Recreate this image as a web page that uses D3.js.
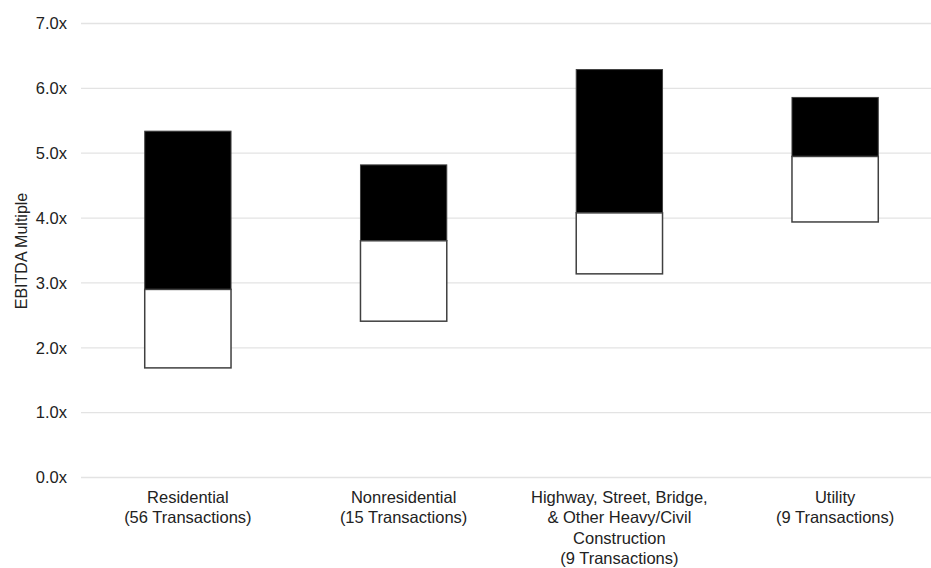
<!DOCTYPE html>
<html>
<head>
<meta charset="utf-8">
<script src="https://cdn.jsdelivr.net/npm/d3@7"></script>
<style>
  html, body { margin: 0; padding: 0; background: #fff; }
  svg { display: block; font-family: "Liberation Sans", Arial, sans-serif; }
</style>
</head>
<body>
<svg id="chart" width="931" height="568"></svg>
<script>
const categories = [
  ["Residential", "(56 Transactions)"],
  ["Nonresidential", "(15 Transactions)"],
  ["Highway, Street, Bridge,", "& Other Heavy/Civil", "Construction", "(9 Transactions)"],
  ["Utility", "(9 Transactions)"]
];
const lowValues = [1.69, 2.41, 3.14, 3.94];
const midValues = [2.90, 3.65, 4.08, 4.95];
const highValues = [5.34, 4.82, 6.29, 5.86];
const yTicks = [0, 1, 2, 3, 4, 5, 6, 7];
const yLabel = "EBITDA Multiple";

const svg = d3.select("#chart");
const keys = categories.map((c, i) => i);

const x = d3.scaleBand().domain(keys).range([80, 943]).paddingInner(0.6).paddingOuter(0.3);
const y = d3.scaleLinear().domain([0, 7]).range([477.5, 23.5]);

// gridlines
svg.append("g").selectAll("line").data(yTicks).join("line")
  .attr("x1", 81).attr("x2", 931)
  .attr("y1", d => y(d)).attr("y2", d => y(d))
  .attr("stroke", "#e3e3e3").attr("stroke-width", 1.3);

// y axis
const yAxis = d3.axisLeft(y).tickValues(yTicks).tickFormat(d => d3.format(".1f")(d) + "x").tickSize(0).tickPadding(14);
const ya = svg.append("g").attr("transform", "translate(81,0)").call(yAxis);
ya.select(".domain").remove();
ya.selectAll("text").attr("font-size", 16.5).attr("fill", "#222").attr("font-family", "Liberation Sans, Arial, sans-serif");

svg.append("text")
  .attr("transform", "translate(26.5,251) rotate(-90)")
  .attr("text-anchor", "middle")
  .attr("font-size", 16).attr("fill", "#222")
  .text(yLabel);

// bars: black upper
svg.append("g").selectAll("rect").data(keys).join("rect")
  .attr("x", d => x(d)).attr("width", x.bandwidth())
  .attr("y", d => y(highValues[d])).attr("height", d => y(midValues[d]) - y(highValues[d]))
  .attr("fill", "#000").attr("stroke", "#404040").attr("stroke-width", 1);

// bars: white lower
svg.append("g").selectAll("rect").data(keys).join("rect")
  .attr("x", d => x(d)).attr("width", x.bandwidth())
  .attr("y", d => y(midValues[d])).attr("height", d => y(lowValues[d]) - y(midValues[d]))
  .attr("fill", "#fff").attr("stroke", "#404040").attr("stroke-width", 1.5);

// category labels
const xl = svg.append("g");
keys.forEach(k => {
  const t = xl.append("text")
    .attr("x", x(k) + x.bandwidth() / 2)
    .attr("y", 502.5)
    .attr("text-anchor", "middle")
    .attr("font-size", 16.5).attr("fill", "#222");
  categories[k].forEach((line, i) => {
    t.append("tspan").attr("x", x(k) + x.bandwidth() / 2).attr("dy", i === 0 ? 0 : 20.5).text(line);
  });
});
</script>
</body>
</html>
